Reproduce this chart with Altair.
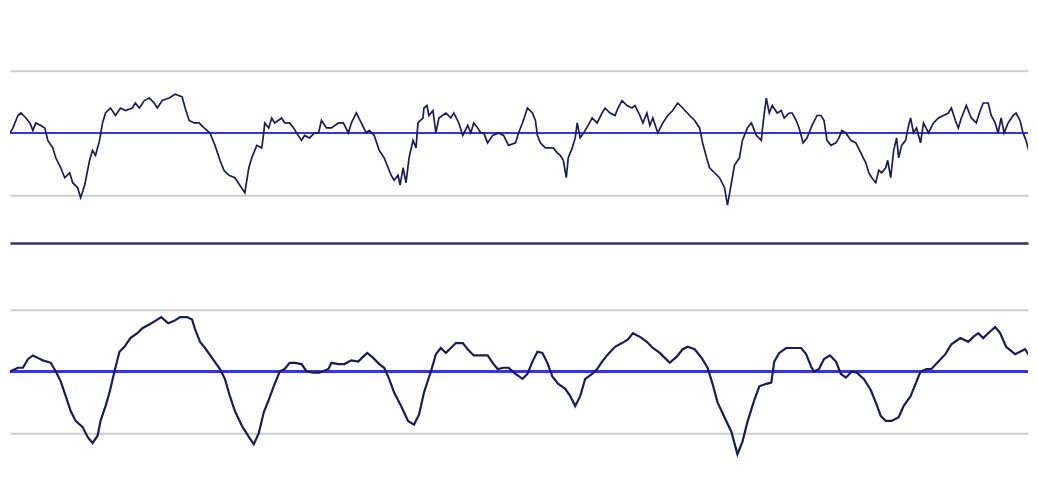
import altair as alt
import pandas as pd

# Upper panel: raw (noisy) series
raw_t = [0, 3, 8, 11, 16, 20, 23, 26, 31, 35, 38, 43, 46, 51, 55, 60, 63, 68, 71, 75,
         80, 83, 86, 90, 93, 96, 101, 106, 111, 116, 123, 126, 130, 135, 140, 145, 148, 153, 160, 166,
         173, 176, 180, 185, 190, 195, 201, 206, 211, 215, 220, 226, 231, 236, 240, 243, 248, 253, 255, 256,
         260, 263, 266, 273, 276, 281, 285, 288, 293, 296, 301, 306, 310, 313, 318, 323, 330, 335, 340, 343,
         348, 353, 358, 361, 366, 371, 376, 380, 383, 386, 390, 392, 395, 398, 401, 405, 408, 410, 415, 416,
         419, 421, 425, 428, 431, 438, 443, 446, 451, 455, 460, 463, 466, 470, 473, 476, 480, 485, 491, 496,
         501, 508, 511, 515, 520, 525, 528, 530, 533, 538, 543, 546, 550, 553, 556, 559, 561, 565, 568, 570,
         573, 578, 581, 585, 590, 595, 598, 603, 608, 611, 615, 620, 625, 628, 633, 636, 640, 643, 646, 651,
         656, 661, 666, 671, 676, 683, 688, 693, 696, 700, 703, 708, 713, 718, 721, 725, 728, 733, 736, 741,
         745, 750, 755, 756, 758, 760, 763, 766, 771, 775, 778, 783, 786, 790, 793, 797, 801, 806, 811, 815,
         818, 821, 825, 830, 833, 836, 840, 845, 850, 855, 860, 863, 866, 870, 873, 876, 880, 882, 885, 888,
         891, 893, 896, 900, 903, 905, 908, 911, 915, 918, 923, 928, 933, 938, 943, 946, 950, 953, 956, 961,
         966, 971, 975, 978, 983, 986, 990, 993, 996, 999, 1003, 1008, 1011, 1015, 1018, 1021, 1025, 1030, 1033]
raw_v = [0, 4, 14, 16, 12, 8, 2, 8, 6, 4, -6, -12, -20, -28, -36, -32, -40, -44, -52, -42,
         -22, -14, -18, -6, 8, 16, 20, 14, 20, 18, 20, 24, 20, 26, 28, 24, 20, 26, 28, 31,
         29, 20, 10, 8, 8, 4, 0, -10, -22, -30, -34, -36, -42, -48, -28, -20, -10, -12, 0, 8,
         4, 12, 8, 12, 8, 8, 4, 0, -6, -2, -4, 0, 0, 10, 4, 4, 8, 8, 0, 8,
         16, 8, 0, 2, -2, -14, -20, -28, -34, -38, -34, -42, -28, -40, -20, -6, -12, 8, 12, 20,
         22, 14, 18, 0, 12, 16, 12, 16, 8, -2, 6, 0, 8, 4, 0, 0, -8, -2, 0, -2,
         -10, -8, 0, 8, 20, 16, 10, -2, -8, -12, -12, -12, -16, -18, -22, -36, -20, -12, -4, 8,
         -4, 2, 6, 12, 8, 16, 20, 16, 14, 20, 26, 22, 20, 22, 14, 8, 16, 6, 12, 0,
         8, 14, 18, 24, 20, 14, 10, 4, -8, -20, -28, -32, -36, -44, -58, -40, -26, -20, -6, 4,
         8, -2, -6, 2, 16, 28, 16, 22, 16, 18, 12, 16, 16, 10, 4, -8, -4, 6, 14, 14,
         10, -6, -10, -8, -4, 2, 0, -6, -8, -16, -24, -32, -36, -40, -30, -32, -28, -22, -36, -14,
         -4, -20, -10, -6, 6, 12, 0, 4, -8, 8, 0, 8, 12, 14, 16, 20, 10, 4, 12, 22,
         12, 8, 18, 24, 24, 14, 8, 0, 12, 0, 8, 14, 16, 10, 0, -6, -18, -22, -32]

# Lower panel: smoothed series
smooth_t = [0, 8, 13, 18, 23, 28, 33, 41, 46, 51, 56, 61, 66, 73, 78, 83, 88, 91, 96, 100,
            105, 110, 115, 121, 128, 133, 140, 146, 152, 159, 165, 171, 178, 183, 186, 191, 196, 203, 211, 216,
            221, 226, 233, 240, 245, 250, 255, 260, 265, 271, 276, 281, 286, 293, 298, 305, 311, 320, 323, 330,
            336, 343, 350, 355, 359, 365, 371, 376, 381, 386, 393, 400, 406, 411, 416, 423, 428, 433, 438, 443,
            448, 455, 460, 466, 473, 480, 485, 490, 496, 501, 508, 515, 520, 525, 530, 535, 540, 545, 551, 558,
            563, 568, 573, 578, 585, 590, 595, 601, 608, 615, 621, 626, 633, 640, 646, 653, 658, 663, 670, 676,
            681, 688, 695, 701, 706, 711, 718, 725, 731, 736, 741, 748, 753, 760, 765, 768, 773, 780, 786, 795,
            800, 805, 808, 813, 818, 824, 830, 835, 840, 846, 851, 858, 865, 870, 875, 880, 886, 893, 898, 905,
            910, 915, 921, 926, 933, 940, 946, 955, 963, 968, 973, 978, 983, 990, 995, 1001, 1010, 1015, 1020, 1025,
            1030, 1033]
smooth_v = [0, 3, 3, 10, 13, 11, 9, 7, 0, -8, -20, -32, -40, -45, -53, -58, -52, -40, -28, -17,
            0, 16, 20, 27, 31, 35, 38, 41, 44, 39, 41, 44, 44, 42, 34, 24, 19, 11, 2, -6,
            -20, -32, -44, -53, -59, -50, -33, -23, -12, 0, 2, 7, 7, 6, 0, -1, -1, 2, 7, 6,
            6, 9, 8, 12, 15, 11, 6, 3, -6, -17, -28, -40, -43, -35, -17, 0, 14, 19, 15, 19,
            23, 23, 18, 13, 13, 13, 7, 2, 3, 3, -2, -6, -2, 8, 16, 15, 7, -4, -10, -14,
            -20, -28, -20, -6, -2, 2, 8, 14, 20, 23, 26, 31, 28, 24, 19, 15, 11, 7, 12, 18,
            20, 18, 11, 3, -10, -25, -37, -49, -67, -57, -41, -23, -12, -10, -9, 8, 15, 19, 19, 19,
            14, 4, 0, 2, 10, 13, 8, -2, -5, 0, -1, -6, -15, -25, -36, -40, -40, -37, -28, -20,
            -10, 0, 2, 2, 8, 14, 22, 27, 24, 28, 31, 27, 31, 36, 31, 20, 14, 16, 18, 12,
            0, -6]

grid_values = [-50, 50]
zero_line = [0]

LINE = "#1b1d4f"
BLUE = "#3434ec"
GRID = "#cdcdcd"
W = 1022
X_DOMAIN = [0, 1023]


def panel(t, v, dom, h, lw, zw, xaxis):
    df = pd.DataFrame({"t": t, "v": v})
    x = alt.X("t:Q", scale=alt.Scale(domain=X_DOMAIN, nice=False, zero=False), axis=xaxis)
    y_axis = alt.Axis(values=grid_values, grid=True, gridColor=GRID, gridWidth=2,
                      labels=False, ticks=False, domain=False, title=None)
    y = alt.Y("v:Q", scale=alt.Scale(domain=dom, nice=False, zero=False), axis=y_axis)
    zero = alt.Chart(pd.DataFrame({"z": zero_line})).mark_rule(color=BLUE, strokeWidth=zw).encode(
        y=alt.Y("z:Q", scale=alt.Scale(domain=dom, nice=False, zero=False), axis=y_axis)
    )
    line = alt.Chart(df).mark_line(color=LINE, strokeWidth=lw, clip=True).encode(x=x, y=y)
    return alt.layer(zero, line).properties(width=W, height=h)


top_axis = alt.Axis(domain=True, domainColor="#2f3266", domainWidth=2.5, labels=False, ticks=False,
                    grid=False, title=None)
top = panel(raw_t, raw_v, [-88.4, 99.6], 235, 1.7, 2, top_axis)
bottom = panel(smooth_t, smooth_v, [-75.8, 88.7], 204, 2.2, 3, None)

chart = alt.vconcat(top, bottom, spacing=19).properties(
    padding=0, background="white"
).configure_view(strokeWidth=0, stroke=None)

chart.save("out.html", embed_options={"renderer": "svg", "actions": False})
